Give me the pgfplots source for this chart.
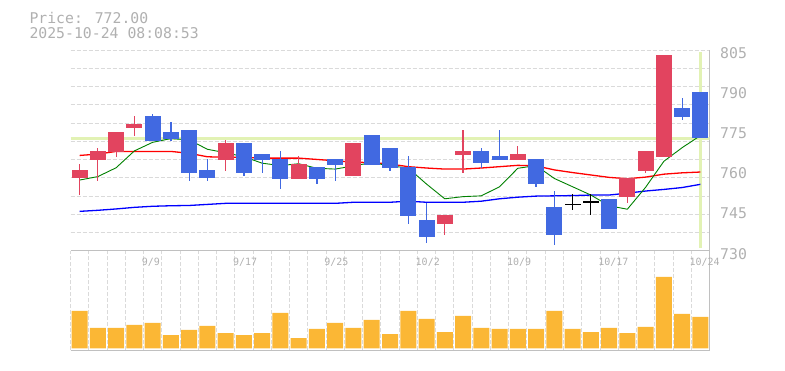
\documentclass[border=0pt]{standalone}
\usepackage{fontspec}
\setmainfont{DejaVu Sans Mono}
\usepackage{pgfplots}
\usepackage{pgfplotstable}
\pgfplotsset{compat=1.18}
\definecolor{cred}{HTML}{E2445F}
\definecolor{cblue}{HTML}{4169E1}
\definecolor{vol}{HTML}{FBB735}
\definecolor{hl}{HTML}{E2F2B4}
\definecolor{gridc}{HTML}{DADADA}
\definecolor{border}{HTML}{C0C0C0}
\definecolor{txt}{HTML}{B0B0B0}

\pgfplotstableread{
i o h l c
0 757.0 762.4 750.8 760.2
1 764.0 768.5 756.0 767.3
2 767.0 774.4 765.1 774.4
3 776.0 780.3 773.0 777.3
8 764.0 771.4 759.9 770.2
12 756.9 765.4 756.9 762.4
15 758.0 770.2 758.0 770.2
20 740.1 743.3 736.0 743.3
21 765.9 775.1 759.1 767.3
24 764.0 769.1 764.0 766.1
30 750.2 757.2 747.9 757.2
31 759.9 767.3 759.1 767.3
32 765.1 803.1 765.1 803.1
}\upc

\pgfplotstableread{
i o h l c
4 780.3 781.1 771.1 771.1
5 774.4 778.1 771.1 771.9
6 775.1 775.1 756.2 759.1
7 760.2 764.4 756.2 757.0
9 770.2 770.2 758.0 759.1
10 766.1 766.1 759.1 764.0
11 764.3 767.3 753.2 756.9
13 761.3 761.3 755.0 756.9
14 764.3 764.3 756.2 762.1
16 773.2 773.2 762.1 762.1
17 768.4 768.4 759.9 761.0
18 761.3 765.4 740.1 743.1
19 741.5 747.9 733.0 735.2
22 767.3 768.4 761.0 762.9
23 765.4 775.1 764.0 764.0
25 764.3 764.3 753.9 754.9
26 746.3 752.3 732.2 736.0
29 749.3 749.3 738.2 738.2
33 783.2 787.1 778.8 780.1
34 789.4 789.4 772.0 772.0
}\downc

\pgfplotstableread{
i o h l c
27 747.3 751.1 745.1 747.3
28 748.2 751.1 743.2 748.2
}\dojic

\pgfplotstableread{
i ma5 ma25 ma75
0 756.4 765.6 744.7
1 757.7 766.1 745.1
2 761.0 767.1 745.6
3 767.3 767.1 746.2
4 770.5 767.1 746.6
5 771.9 767.1 746.8
6 771.4 766.4 746.9
7 767.9 765.1 747.3
8 766.6 764.9 747.7
9 765.1 764.9 747.7
10 762.7 764.6 747.7
11 761.8 764.6 747.7
12 762.5 764.6 747.7
13 760.8 764.1 747.7
14 760.5 763.6 747.7
15 761.7 763.1 748.1
16 762.9 762.9 748.1
17 761.7 762.4 748.1
18 760.9 761.4 748.5
19 754.9 760.9 748.1
20 749.4 760.5 748.1
21 750.2 760.5 748.1
22 750.5 760.9 748.5
23 753.9 761.4 749.4
24 760.8 761.9 750.0
25 761.8 761.7 750.4
26 757.0 760.2 750.5
27 753.9 759.2 750.6
28 750.8 758.3 750.8
29 746.8 757.4 750.8
30 745.5 756.9 751.5
31 753.7 757.5 752.3
32 763.4 758.6 752.9
33 768.5 759.1 753.6
34 773.0 759.4 754.8
}\mas

\pgfplotstableread{
i v
0 37.3
1 20.3
2 20.3
3 23.3
4 25.3
5 13.3
6 18.3
7 22.3
8 15.3
9 13.3
10 15.3
11 35.3
12 10.3
13 19.3
14 25.3
15 20.3
16 28.3
17 14.3
18 37.3
19 29.3
20 16.3
21 32.3
22 20.3
23 19.3
24 19.3
25 19.3
26 37.3
27 19.3
28 16.3
29 20.3
30 15.3
31 21.3
32 71.3
33 34.3
34 31.3
}\volt

\begin{document}
\begin{tikzpicture}[x=1pt,y=1pt]
\path[use as bounding box] (0,0) rectangle (785,370);
\node[anchor=west, inner sep=0pt, text=txt, font=\fontsize{14.8}{16}\selectfont] at (29.3,352) {Price: 772.00};
\node[anchor=west, inner sep=0pt, text=txt, font=\fontsize{14.8}{16}\selectfont] at (29.3,337) {2025-10-24 08:08:53};

\pgfplotsset{
  common/.style={
    scale only axis, width=639pt,
    xmin=-0.5, xmax=34.5,
    axis x line*=bottom, axis y line*=right,
    axis line style={-, draw=border, line width=1pt},
    major tick length=0pt, minor tick length=0pt,
    minor xtick={-0.5,0.5,...,34.5},
    xminorgrids,
    minor grid style={draw=gridc, dash pattern=on 4pt off 2pt, line width=0.9pt},
  },
  errb/.style n args={3}{draw=none, mark=none, forget plot,
    error bars/.cd, #1 dir=both, #1 explicit, error mark=none,
    error bar style={draw=#2, line width=#3}},
}

% Price panel
\begin{axis}[common,
  at={(70.5pt,119.3pt)}, anchor=south west, height=200.7pt,
  ymin=730, ymax=805,
  xtick=\empty,
  ytick={730,745,760,775,790,805},
  yticklabels={730,745,760,775,790,805},
  yticklabel pos=right,
  yticklabel style={anchor=west, inner sep=0pt, xshift=10.5pt, yshift=-3pt, text=txt, font=\fontsize{14.8}{16}\selectfont},
  minor ytick={736.818,743.636,750.455,757.273,764.091,770.909,777.727,784.545,791.364,798.182,805},
  yminorgrids,
]
\addplot[hl, line width=3pt, forget plot] coordinates {(-0.5,772) (34.5,772)};
\addplot[hl, line width=3pt, forget plot] coordinates {(34,731) (34,804.4)};
\addplot[blue, line width=1.3pt, forget plot] table[x=i, y=ma75] {\mas};
\addplot[red, line width=1.3pt, forget plot] table[x=i, y=ma25] {\mas};
\addplot[black!50!green, line width=0.9pt, forget plot] table[x=i, y=ma5] {\mas};
% wicks
\addplot[errb={y}{cred}{1.2pt}]
  table[x=i, y expr={(\thisrow{h}+\thisrow{l})/2}, y error expr={(\thisrow{h}-\thisrow{l})/2}] {\upc};
\addplot[errb={y}{cblue}{1.2pt}]
  table[x=i, y expr={(\thisrow{h}+\thisrow{l})/2}, y error expr={(\thisrow{h}-\thisrow{l})/2}] {\downc};
\addplot[errb={y}{black}{1.2pt}]
  table[x=i, y expr={(\thisrow{h}+\thisrow{l})/2}, y error expr={(\thisrow{h}-\thisrow{l})/2}] {\dojic};
% bodies
\addplot[errb={y}{cred}{16pt}]
  table[x=i, y expr={(\thisrow{o}+\thisrow{c})/2}, y error expr={abs(\thisrow{c}-\thisrow{o})/2}] {\upc};
\addplot[errb={y}{cblue}{16pt}]
  table[x=i, y expr={(\thisrow{o}+\thisrow{c})/2}, y error expr={abs(\thisrow{c}-\thisrow{o})/2}] {\downc};
\addplot[errb={x}{black}{1.2pt}]
  table[x=i, y=o, x error expr={0.438}] {\dojic};
\end{axis}

% Volume panel
\begin{axis}[common,
  at={(70.5pt,20pt)}, anchor=south west, height=99.3pt,
  ymin=-1.7, ymax=97.6,
  ytick=\empty,
  xtick={4,9,14,19,24,29,34},
  xticklabels={9/9,9/17,9/25,10/2,10/9,10/17,10/24},
  xticklabel style={anchor=west, inner sep=0pt, xshift=-11pt, yshift=88pt, text=txt, font=\fontsize{10}{12}\selectfont},
]
\addplot[ybar, bar width=16pt, bar shift=0pt, fill=vol, draw=none] table[x=i, y=v] {\volt};
\end{axis}
\end{tikzpicture}
\end{document}
